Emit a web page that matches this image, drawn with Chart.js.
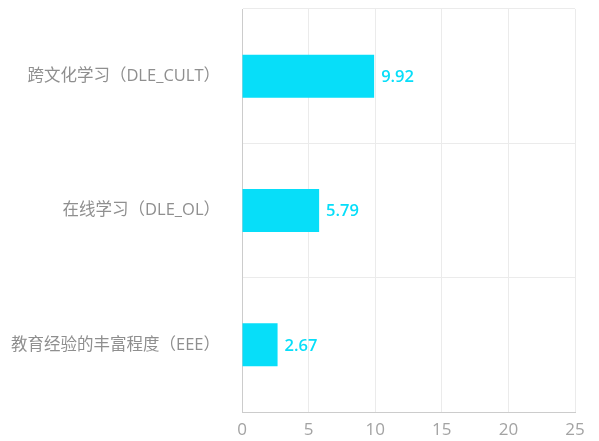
<!DOCTYPE html>
<html>
<head>
<meta charset="utf-8">
<script src="https://cdn.jsdelivr.net/npm/chart.js@4"></script>
<style>
html,body{margin:0;padding:0;background:#fff;}
#wrap{width:599px;height:441px;position:relative;}
</style>
</head>
<body>
<div id="wrap"><canvas id="c" width="599" height="441"></canvas></div>
<script>
const categories = ["跨文化学习（DLE_CULT）", "在线学习（DLE_OL）", "教育经验的丰富程度（EEE）"];
const values = [9.92, 5.79, 2.67];
const xTicks = [0, 5, 10, 15, 20, 25];

const FONT = "'Open Sans','Noto Sans CJK SC',sans-serif";
const BAR = "#07DEF9";

const valueLabels = {
  id: 'valueLabels',
  afterDatasetsDraw(chart) {
    const ctx = chart.ctx;
    const meta = chart.getDatasetMeta(0);
    ctx.save();
    ctx.font = "600 16.5px " + FONT;
    ctx.fillStyle = BAR;
    ctx.textAlign = 'left';
    ctx.textBaseline = 'middle';
    meta.data.forEach((bar, i) => {
      ctx.fillText(values[i].toFixed(2), bar.x + 7, bar.y + 1);
    });
    ctx.restore();
  }
};

new Chart(document.getElementById('c'), {
  type: 'bar',
  data: {
    labels: categories,
    datasets: [{
      data: values,
      backgroundColor: BAR,
      borderWidth: 0,
      categoryPercentage: 0.8,
      barPercentage: 0.4
    }]
  },
  options: {
    indexAxis: 'y',
    responsive: false,
    animation: false,
    layout: { padding: { top: 9, right: 24, left: 0, bottom: 0 } },
    plugins: { legend: { display: false }, tooltip: { enabled: false } },
    scales: {
      x: {
        min: 0, max: 25,
        afterBuildTicks(s) { s.ticks = xTicks.map(v => ({ value: v })); },
        afterFit(s) { s.height = 29; s.paddingLeft = 0; s.paddingRight = 0; },
        grid: { color: '#ebebeb', drawTicks: false },
        border: { color: '#cccccc' },
        ticks: { color: '#a3a3a3', font: { size: 17, family: FONT }, padding: 8 }
      },
      y: {
        afterFit(s) { s.width = 242; s.paddingTop = 0; s.paddingBottom = 0; },
        grid: { color: '#ebebeb', drawTicks: false },
        border: { color: '#cccccc' },
        ticks: { color: '#8f8f8f', font: { size: 16.5, family: FONT }, padding: 22 }
      }
    }
  },
  plugins: [valueLabels]
});
</script>
</body>
</html>
